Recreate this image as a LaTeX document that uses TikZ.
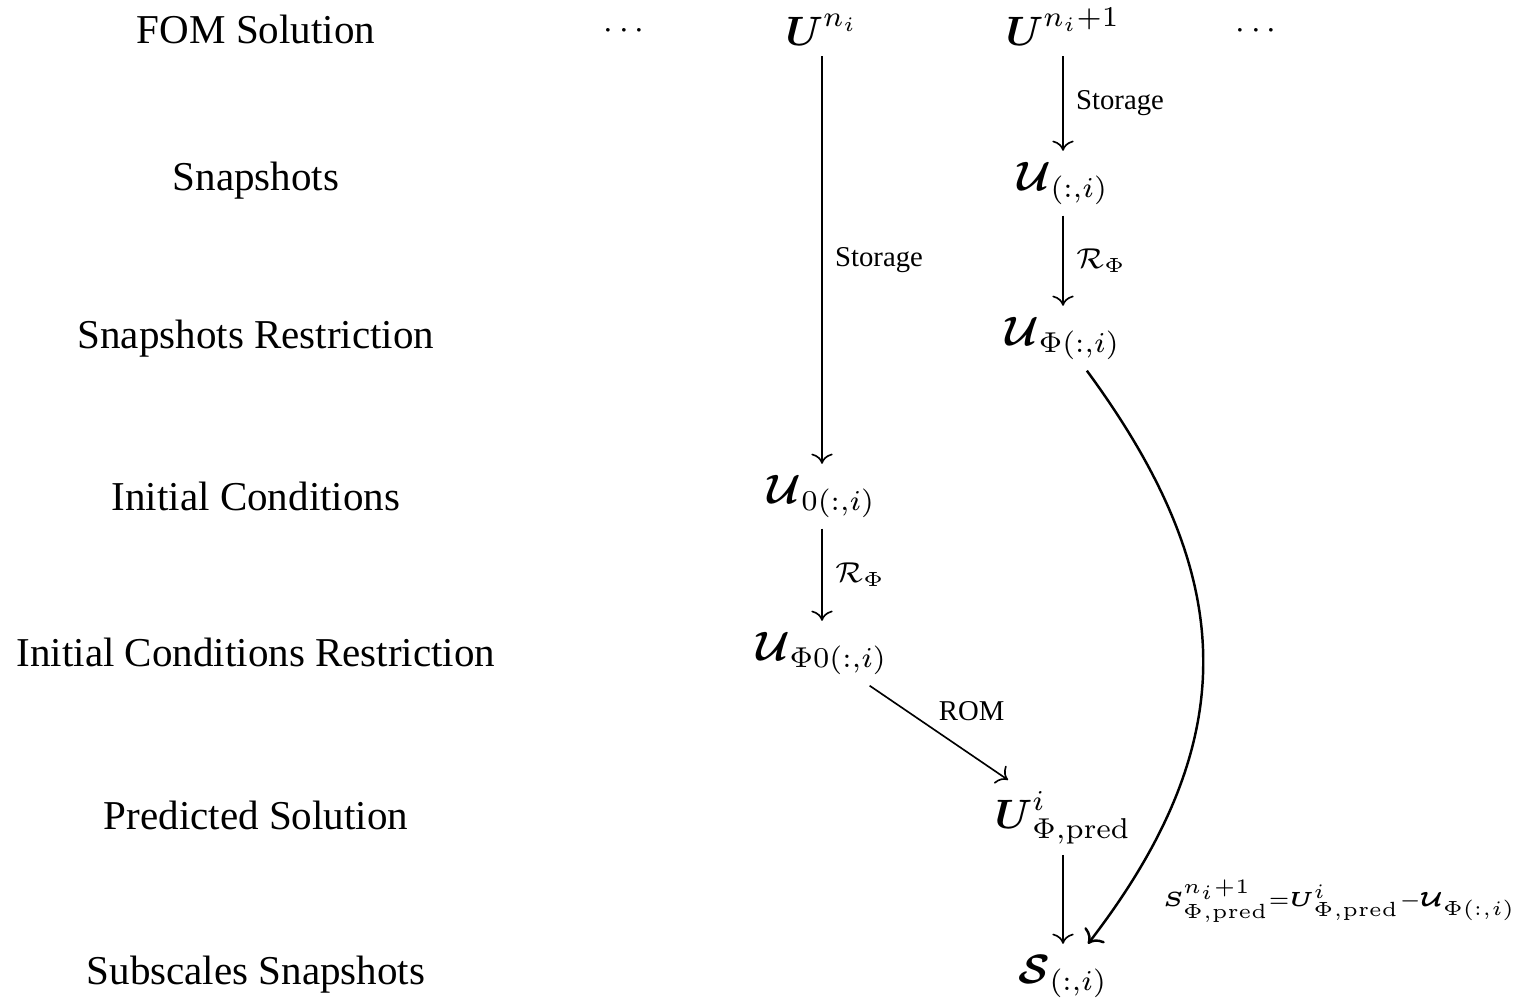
\documentclass[tikz,border=0pt]{standalone}
\usepackage[no-math]{fontspec}
\setmainfont{Liberation Serif}
\usepackage{amsmath}
\usetikzlibrary{arrows.meta,positioning}

\begin{document}
\begin{tikzpicture}[
  x=0.2437pt, y=-0.2437pt,
  stage/.style={anchor=base, font=\normalsize},
  var/.style={anchor=base, inner sep=2.5pt},
  lbl/.style={font=\scriptsize, inner sep=3pt},
  arr/.style={-{Computer Modern Rightarrow}, thin},
  curv/.style={-{Computer Modern Rightarrow}, line width=0.6pt}
]
\useasboundingbox (0,0) rectangle (1522,1000);

% stage names on the left
\node[stage] (fom) at (256,43)  {FOM Solution};
\node[stage] (snp) at (256,190) {Snapshots};
\node[stage] (snr) at (256,348) {Snapshots Restriction};
\node[stage] (ic)  at (256,510) {Initial Conditions};
\node[stage] (icr) at (256,666) {Initial Conditions Restriction};
\node[stage] (ps)  at (256,829) {Predicted Solution};
\node[stage] (ss)  at (256,984) {Subscales Snapshots};

% quantities
\node[var, font=\footnotesize] (dl) at (627,38)  {$\cdots$};
\node[var] (un)   at (822,45)   {$\boldsymbol{U}^{n_i}$};
\node[var] (un1)  at (1063,45)  {$\boldsymbol{U}^{n_i+1}$};
\node[var, font=\footnotesize] (dr) at (1259,38) {$\cdots$};
\node[var] (usn)  at (1063,190) {$\boldsymbol{\mathcal{U}}_{(:,i)}$};
\node[var] (uphi) at (1063,345) {$\boldsymbol{\mathcal{U}}_{\Phi(:,i)}$};
\node[var] (u0)   at (822,503)  {$\boldsymbol{\mathcal{U}}_{0(:,i)}$};
\node[var] (uph0) at (822,660)  {$\boldsymbol{\mathcal{U}}_{\Phi0(:,i)}$};
\node[var] (upr)  at (1063,828) {$\boldsymbol{U}^{i}_{\Phi,\mathrm{pred}}$};
\node[var] (sub)  at (1063,983) {$\boldsymbol{\mathcal{S}}_{(:,i)}$};

\draw[arr] (un)  -- node[lbl, right] {Storage} (u0);
\draw[arr] (un1) -- node[lbl, right] {Storage} (usn);
\draw[arr] (usn) -- node[lbl, right] {$\mathcal{R}_\Phi$} (uphi);
\draw[arr] (u0)  -- node[lbl, right] {$\mathcal{R}_\Phi$} (uph0);
\draw[arr] (uph0) -- node[lbl, inner sep=1.5pt, pos=0.45, above right] {ROM} (upr);
\draw[arr] (upr) -- (sub);
\draw[curv] (uphi) .. controls +(172,234) and +(185,-240) .. node[lbl, inner sep=1.5pt, pos=0.93, right=9pt]
  {$\scriptstyle \boldsymbol{S}^{n_i+1}_{\Phi,\mathrm{pred}}{=}\boldsymbol{U}^{i}_{\Phi,\mathrm{pred}}{-}\boldsymbol{\mathcal{U}}_{\Phi(:,i)}$} (sub);
\end{tikzpicture}
\end{document}
